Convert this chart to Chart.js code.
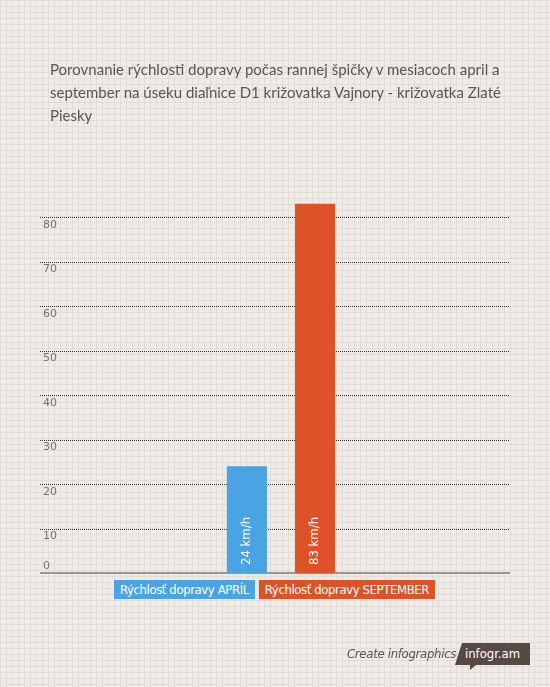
<!DOCTYPE html>
<html>
<head>
<meta charset="utf-8">
<script src="https://cdn.jsdelivr.net/npm/chart.js@4"></script>
<style>
html,body{margin:0;padding:0;}
body{
width:550px;height:687px;overflow:hidden;position:relative;
background-color:#efece7;
background-image:
linear-gradient(to right,#e0dcd6 1px,transparent 1px),
linear-gradient(to bottom,#e0dcd6 1px,transparent 1px);
background-size:6px 6px;
font-family:Lato,"Open Sans",sans-serif;
}
#title{position:absolute;left:50px;top:58px;font-size:15px;line-height:23px;color:#5a5552;white-space:nowrap;}
#legend{position:absolute;left:114px;top:580px;display:flex;gap:4px;}
#legend span{display:block;height:19px;line-height:20px;padding:0 6px;color:#fff;font-family:"DejaVu Sans Condensed","DejaVu Sans",sans-serif;font-stretch:condensed;font-size:13px;letter-spacing:-0.4px;white-space:nowrap;}
#footer{position:absolute;left:347px;top:646px;font-style:italic;font-size:13px;letter-spacing:-0.3px;color:#555;font-family:"DejaVu Sans Condensed","DejaVu Sans",sans-serif;font-stretch:condensed;white-space:nowrap;}
#tag{position:absolute;left:455px;top:643px;width:75px;height:22px;background:#574a44;color:#fff;font-size:13px;line-height:22px;text-align:center;
clip-path:polygon(7px 0,100% 0,100% 100%,0 100%);font-family:"DejaVu Sans Condensed","DejaVu Sans",sans-serif;font-stretch:condensed;}
#tagtip{position:absolute;left:470px;top:665px;width:0;height:0;border-top:5px solid #574a44;border-right:6px solid transparent;}
canvas{position:absolute;left:0;top:0;}
</style>
</head>
<body>
<canvas id="chart" width="550" height="687"></canvas>
<div id="title">Porovnanie rýchlosti dopravy počas rannej špičky v mesiacoch april a<br>september na úseku diaľnice D1 križovatka Vajnory - križovatka Zlaté<br>Piesky</div>
<div id="legend"></div>
<div id="footer">Create infographics</div>
<div id="tag">infogr.am</div>
<div id="tagtip"></div>
<script>
let categories = [""];
let seriesNames = ["Rýchlosť dopravy APRÍL","Rýchlosť dopravy SEPTEMBER"];
let speedApril = [24];
let speedSeptember = [83];
let yTicks = [0,10,20,30,40,50,60,70,80];
let colors = ["#4aa3e3","#dd5228"];

// legend boxes
let legend = document.getElementById("legend");
seriesNames.forEach((name,i)=>{
let s = document.createElement("span");
s.textContent = name;
s.style.background = colors[i];
legend.appendChild(s);
});

const gridRight = 510;

const decor = {
id:"decor",
beforeDatasetsDraw(chart){
let ctx = chart.ctx;
let y = chart.scales.y;
let left = chart.chartArea.left;
ctx.save();
// dotted grid lines
ctx.strokeStyle = "#3a3532";
ctx.lineWidth = 1;
ctx.setLineDash([1,1]);
yTicks.forEach(v=>{
if(v === 0) return;
let py = Math.round(y.getPixelForValue(v)) + 0.5;
ctx.beginPath();
ctx.moveTo(left,py);
ctx.lineTo(gridRight,py);
ctx.stroke();
});
ctx.setLineDash([]);
// baseline
let by = y.getPixelForValue(0);
ctx.strokeStyle = "#9a9794";
ctx.lineWidth = 2;
ctx.beginPath();
ctx.moveTo(left,by);
ctx.lineTo(gridRight,by);
ctx.stroke();
// tick labels
ctx.fillStyle = "#77726e";
ctx.font = "11px 'DejaVu Sans'";
ctx.textBaseline = "middle";
ctx.textAlign = "left";
yTicks.forEach(v=>{
let py = y.getPixelForValue(v);
ctx.fillText(String(v), left + 3, v === 0 ? py - 7 : py + 8);
});
ctx.restore();
},
afterDatasetsDraw(chart){
let ctx = chart.ctx;
ctx.save();
ctx.fillStyle = "#fff";
ctx.font = "condensed 13px 'DejaVu Sans'";
ctx.textAlign = "left";
ctx.textBaseline = "middle";
chart.data.datasets.forEach((ds,i)=>{
let bar = chart.getDatasetMeta(i).data[0];
ctx.save();
ctx.translate(bar.x, bar.base - 8);
ctx.rotate(-Math.PI/2);
ctx.fillText(ds.data[0] + " km/h", 0, 0);
ctx.restore();
});
ctx.restore();
}
};

new Chart(document.getElementById("chart"),{
type:"bar",
data:{
labels:categories,
datasets:[
{label:seriesNames[0],data:speedApril,backgroundColor:colors[0],clip:false},
{label:seriesNames[1],data:speedSeptember,backgroundColor:colors[1],clip:false}
]
},
options:{
responsive:false,
animation:false,
events:[],
categoryPercentage:0.283,
barPercentage:0.588,
layout:{padding:{left:40,right:28,top:217,bottom:114}},
plugins:{legend:{display:false},tooltip:{enabled:false}},
scales:{
x:{display:false},
y:{display:false,min:0,max:80}
}
},
plugins:[decor]
});
</script>
</body>
</html>
